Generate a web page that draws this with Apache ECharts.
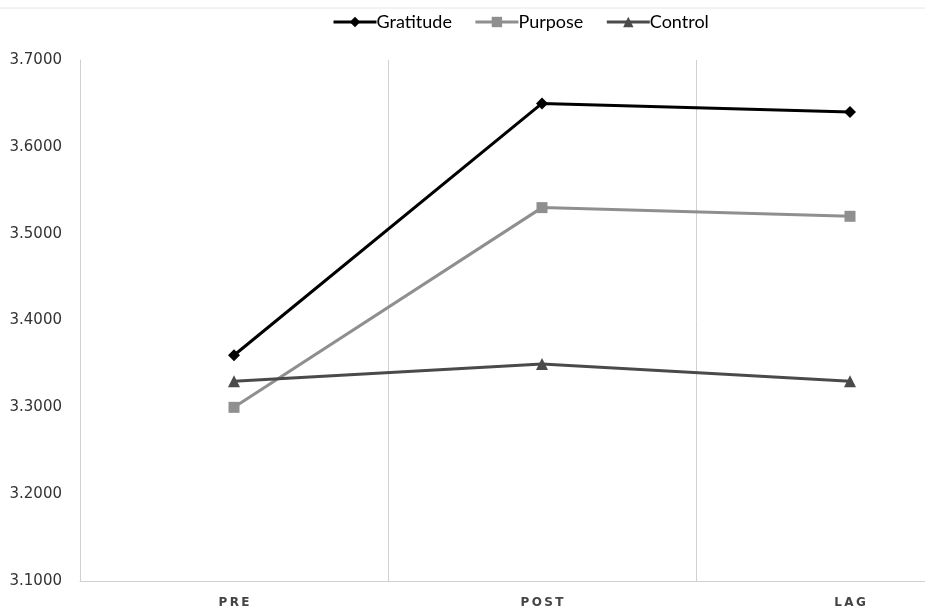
<!DOCTYPE html>
<html><head><meta charset="utf-8">
<script src="https://cdn.jsdelivr.net/npm/echarts@6/dist/echarts.min.js"></script>
<style>html,body{margin:0;padding:0;background:#fff;overflow:hidden}#c{width:1004px;height:616px}</style>
</head><body><div id="c"></div>
<script>
const categories = ['PRE', 'POST', 'LAG'];
const gratitude = [3.36, 3.65, 3.64];
const purpose = [3.30, 3.53, 3.52];
const control = [3.33, 3.35, 3.33];
const yMin = 3.1, yMax = 3.7, yStep = 0.1;

const chart = echarts.init(document.getElementById('c'), null, {renderer: 'canvas'});
chart.setOption({
  backgroundColor: '#fff',
  animation: false,
  graphic: [{type: 'line', shape: {x1: 0, y1: 8, x2: 1004, y2: 8}, style: {stroke: '#e6e6e6', lineWidth: 1}}],
  legend: {
    top: 8, left: 327, itemWidth: 43, itemHeight: 13, itemGap: 22,
    lineStyle: {width: 3},
    textStyle: {fontFamily: 'Lato, sans-serif', fontSize: 18, color: '#000', padding: [0, 0, 0, -5]},
    data: ['Gratitude', 'Purpose', 'Control']
  },
  grid: {left: 80, top: 60, right: 0, bottom: 35, containLabel: false},
  xAxis: {
    type: 'category', data: categories, boundaryGap: true,
    axisLine: {lineStyle: {color: '#d0d0d0', width: 1}},
    axisTick: {show: false},
    splitLine: {show: true, lineStyle: {color: '#d0d0d0', width: 1}},
    axisLabel: {margin: 16, fontFamily: 'DejaVu Sans, sans-serif', fontSize: 12, fontWeight: 'bold', color: '#444',
      formatter: v => v.split('').join('\u2009')}
  },
  yAxis: {
    type: 'value', min: yMin, max: yMax, interval: yStep,
    axisLine: {show: true, lineStyle: {color: '#d0d0d0', width: 1}},
    axisTick: {show: false},
    splitLine: {show: false},
    axisLabel: {margin: 18, fontFamily: 'DejaVu Sans, sans-serif', fontSize: 15, color: '#333',
      formatter: v => v.toFixed(4)}
  },
  series: [
    {name: 'Gratitude', type: 'line', data: gratitude, symbol: 'diamond', symbolSize: 12,
      lineStyle: {color: '#000', width: 3}, itemStyle: {color: '#000'}},
    {name: 'Purpose', type: 'line', data: purpose, symbol: 'rect', symbolSize: 11,
      lineStyle: {color: '#8f8f8f', width: 3}, itemStyle: {color: '#8f8f8f'}},
    {name: 'Control', type: 'line', data: control, symbol: 'triangle', symbolSize: 12,
      lineStyle: {color: '#4a4a4a', width: 3}, itemStyle: {color: '#4a4a4a'}}
  ]
});
</script></body></html>
